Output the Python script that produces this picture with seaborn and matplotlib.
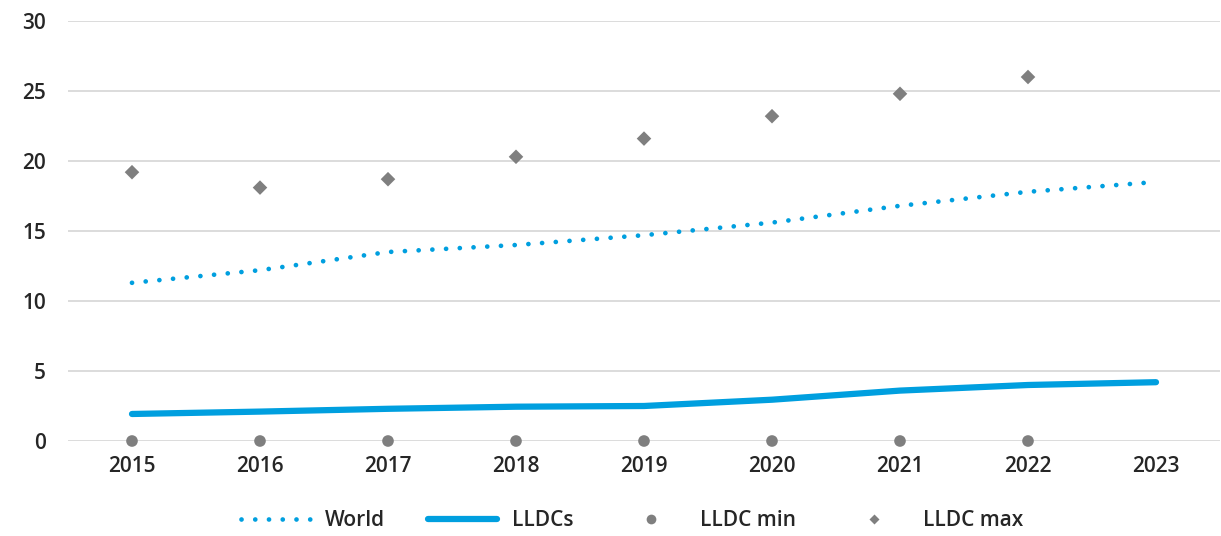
import numpy as np
import pandas as pd
import matplotlib
matplotlib.use("Agg")
import matplotlib.pyplot as plt
import seaborn as sns
from matplotlib.lines import Line2D

# valeurs
years = [2015, 2016, 2017, 2018, 2019, 2020, 2021, 2022, 2023]
world = [11.3, 12.2, 13.5, 14.0, 14.7, 15.6, 16.8, 17.8, 18.5]
lldcs = [1.93, 2.1, 2.3, 2.45, 2.5, 2.95, 3.6, 4.0, 4.2]
lldc_min = [0, 0, 0, 0, 0, 0, 0, 0, np.nan]
lldc_max = [19.2, 18.1, 18.7, 20.3, 21.6, 23.2, 24.8, 26.0, np.nan]

df = pd.DataFrame({"year": years, "World": world, "LLDCs": lldcs,
                   "LLDC min": lldc_min, "LLDC max": lldc_max})

blue = "#009FDF"
grey = "#7F7F7F"
text_col = "#262626"

sns.set_style("white")
plt.rcParams["font.family"] = ["Open Sans", "DejaVu Sans"]

fig = plt.figure(figsize=(12.21, 5.36), dpi=100)
ax = fig.add_axes([68 / 1221, (536 - 441) / 536, (1220 - 68) / 1221, (441 - 21) / 536])

dots = (0, (0.01, 2.9))
sns.lineplot(data=df, x="year", y="World", ax=ax, color=blue, lw=3.4, linestyle=dots)
ax.lines[-1].set_dash_capstyle("round")
sns.lineplot(data=df, x="year", y="LLDCs", ax=ax, color=blue, lw=4.5,
             solid_capstyle="round")
sns.scatterplot(data=df, x="year", y="LLDC min", ax=ax, color=grey, marker="o",
                s=70, edgecolor="none", clip_on=False, zorder=3)
sns.scatterplot(data=df, x="year", y="LLDC max", ax=ax, color=grey, marker="D",
                s=55, edgecolor="none", clip_on=False, zorder=3)

ax.set_xlim(2014.5, 2023.5)
ax.set_ylim(0, 30)
ax.set_yticks([0, 5, 10, 15, 20, 25, 30])
ax.set_xticks(years)
ax.yaxis.grid(True, color="#D9D9D9", lw=1.3)
ax.set_axisbelow(True)
for s in ax.spines.values():
    s.set_visible(False)
ax.tick_params(length=0, labelsize=15, colors=text_col)
ax.tick_params(axis="x", pad=11)
ax.tick_params(axis="y", pad=16)
for lab in ax.get_xticklabels() + ax.get_yticklabels():
    lab.set_fontweight("semibold")
ax.set_xlabel("")
ax.set_ylabel("")

handles = [
    Line2D([], [], color=blue, lw=3.4, linestyle=dots, dash_capstyle="round"),
    Line2D([], [], color=blue, lw=4.5, solid_capstyle="round"),
    Line2D([], [], color=grey, marker="o", ls="none", markersize=7, markeredgecolor="none"),
    Line2D([], [], color=grey, marker="D", ls="none", markersize=5, markeredgecolor="none"),
]
leg = fig.legend(handles, ["World", "LLDCs", "LLDC min", "LLDC max"], loc="center",
                 bbox_to_anchor=(0.518, (536 - 521) / 536), ncol=4, frameon=False,
                 fontsize=15, handlelength=3.3, columnspacing=2.1, handletextpad=0.7)
for t in leg.get_texts():
    t.set_color(text_col)
    t.set_fontweight("semibold")

fig.savefig("out.png", dpi=100)
